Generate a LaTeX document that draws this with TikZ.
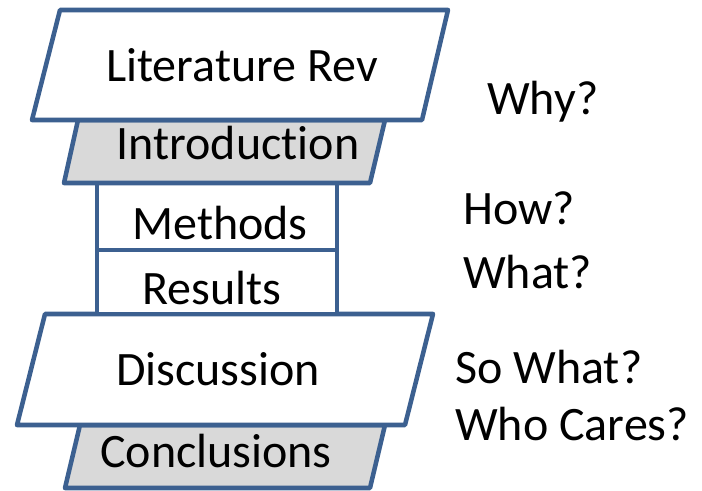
\documentclass[tikz,border=0pt]{standalone}
\usepackage{fontspec}
\setmainfont{Carlito}[Ligatures=NoCommon]
\usepackage{tikz}
\usetikzlibrary{positioning}
\definecolor{edgeblue}{HTML}{3C6090}
\definecolor{boxgray}{HTML}{D9D9D9}
\tikzset{box/.style={draw=edgeblue,line width=3.4pt,line join=round,fill=white}}
\tikzset{shaded/.style={box,fill=boxgray}}
\tikzset{boxtext/.style={inner sep=0pt,anchor=base,font=\fontsize{36}{42}\selectfont}}
\tikzset{question/.style={boxtext,anchor=base west}}

\begin{document}
\begin{tikzpicture}[x=0.75pt,y=-0.75pt]
        \useasboundingbox (0,0) rectangle (702,491);
        % stack of sections
        \draw[shaded] (80,425) -- (385,425) -- (370,488) -- (65,488) -- cycle;
        \draw[box] (45,314) -- (433,314) -- (405,425) -- (17,425) -- cycle;
        \draw[box] (97,250) rectangle (337,314);
        \draw[box] (97,183) rectangle (337,250);
        \draw[shaded] (78,120) -- (385,120) -- (370,183) -- (64,183) -- cycle;
        \draw[box] (60,10) -- (448,10) -- (422,120) -- (32,120) -- cycle;
        \node[boxtext] (litrev) at (242,82) {Literature Rev};
        \node[boxtext] (intro) at (238,160) {Introduction};
        \node[boxtext] (methods) at (220,240) {Methods};
        \node[boxtext] (results) at (212,305) {Results};
        \node[boxtext] (discuss) at (218,385) {Discussion};
        \node[boxtext] (concl) at (216,467) {Conclusions};
        % questions
        \node[question] (why) at (487,115) {Why?};
        \node[question] (how) at (463,225) {How?};
        \node[question] (what) at (463,288) {What?};
        \node[question] (sowhat) at (455,383) {So What?};
        \node[question] (cares) at (455,440) {Who Cares?};
    \end{tikzpicture}
\end{document}
